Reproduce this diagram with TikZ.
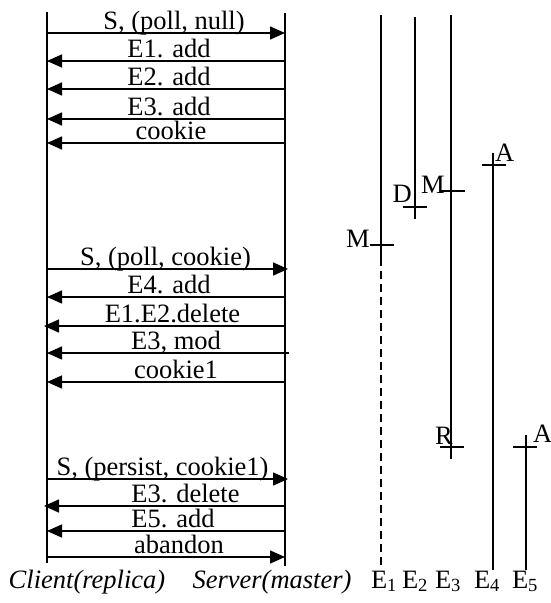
\documentclass[tikz,border=0pt]{standalone}
\usepackage{fontspec}
\setmainfont{Liberation Serif}
\usetikzlibrary{arrows.meta}

\tikzset{
  lifeline/.style={line width=1.8pt},
  msg/.style={line width=1.5pt, -{Triangle[length=15pt, width=13pt]}},
  msglabel/.style={midway, anchor=base, yshift=4pt, inner sep=0pt},
  ticker/.style={line width=1.5pt},
  evlabel/.style={inner sep=0pt},
}

\begin{document}
\begin{tikzpicture}[x=1pt, y=-1pt, font=\fontsize{26.5pt}{30pt}\selectfont]
  \useasboundingbox (0, 0) rectangle (550, 603);

  % lifelines of client and server
  \coordinate (client top) at (47, 12);
  \coordinate (client bot) at (47, 563);
  \coordinate (server top) at (285, 13);
  \coordinate (server bot) at (285, 566);
  \draw[lifeline] (client top) -- (client bot);
  \draw[lifeline] (server top) -- (server bot);

  % message rows
  \foreach \n/\y in {1/33, 2/61, 3/89, 4/119, 5/143,
                     6/269, 7/297, 8/326, 9/353, 10/382,
                     11/479, 12/506, 13/531, 14/557} {
    \coordinate (c\n) at (47, \y);
    \coordinate (s\n) at (285, \y);
  }

  \draw[msg] (c1) -- node[msglabel, xshift=8pt] (m1) {S, (poll, null)} (s1);
  \draw[msg] (s2) -- node[msglabel, xshift=3pt] (m2) {E1. add} (c2);
  \draw[msg] (s3) -- node[msglabel, xshift=3pt] (m3) {E2. add} (c3);
  \draw[msg] (s4) -- node[msglabel, xshift=3pt] (m4) {E3. add} (c4);
  \draw[msg] (s5) -- node[msglabel, xshift=5pt] (m5) {cookie} (c5);

  \draw[msg] (c6) -- node[msglabel, xshift=-2pt] (m6) {S, (poll, cookie)} ([xshift=3pt]s6);
  \draw[msg] (s7) -- node[msglabel, xshift=3pt] (m7) {E4. add} (c7);
  \draw[msg] (s8) -- node[msglabel, xshift=8pt] (m8) {E1.E2.delete} ([xshift=-3pt]c8);
  \draw[msg] ([xshift=4pt]s9) -- node[msglabel, xshift=8pt] (m9) {E3, mod} (c9);
  \draw[msg] (s10) -- node[msglabel, xshift=10pt] (m10) {cookie1} (c10);

  \draw[msg] (c11) -- node[msglabel, xshift=-5pt] (m11) {S, (persist, cookie1)} ([xshift=3pt]s11);
  \draw[msg] (s12) -- node[msglabel, xshift=21pt] (m12) {E3. delete} ([xshift=-3pt]c12);
  \draw[msg] (s13) -- node[msglabel, xshift=7pt] (m13) {E5. add} (c13);
  \draw[msg] (c14) -- node[msglabel, xshift=13pt] (m14) {abandon} (s14);

  % entry timelines
  \draw[lifeline] (381, 15) -- (381, 258);
  \draw[lifeline, dash pattern=on 8pt off 5pt] (381, 258) -- (381, 567);
  \draw[ticker] (415, 17) -- (415, 219);
  \draw[lifeline] (451, 15) -- (451, 459);
  \draw[lifeline] (493, 153) -- (493, 570);
  \draw[lifeline] (526, 435) -- (526, 570);

  % change marks on the timelines
  \coordinate (t1) at (382, 245);
  \coordinate (t2) at (415, 207);
  \coordinate (t3) at (453, 191);
  \coordinate (t4) at (452, 447);
  \coordinate (t5) at (494, 165);
  \coordinate (t6) at (525, 447);
  \foreach \t in {t1, t2, t3, t4, t5, t6}
    \draw[ticker] (\t) +(-12, 0) -- +(12, 0);

  \node[evlabel, anchor=base east] (l1) at (370, 247) {M};
  \node[evlabel, anchor=base east] (l2) at (412, 202) {D};
  \node[evlabel, anchor=base east] (l3) at (445, 193) {M};
  \node[evlabel, anchor=base east] (l4) at (453, 444) {R};
  \node[evlabel, anchor=base west] (l5) at (495, 161) {A};
  \node[evlabel, anchor=base west] (l6) at (533, 442) {A};

  % captions
  \node[anchor=base] (client) at (87, 588) {\textit{Client(replica)}};
  \node[anchor=base] (server) at (272, 588) {\textit{Server(master)}};
  \node[anchor=base] (e1) at (384, 588) {E\textsubscript{1}};
  \node[anchor=base] (e2) at (415, 588) {E\textsubscript{2}};
  \node[anchor=base] (e3) at (448, 588) {E\textsubscript{3}};
  \node[anchor=base] (e4) at (487, 588) {E\textsubscript{4}};
  \node[anchor=base] (e5) at (525, 588) {E\textsubscript{5}};
\end{tikzpicture}
\end{document}
